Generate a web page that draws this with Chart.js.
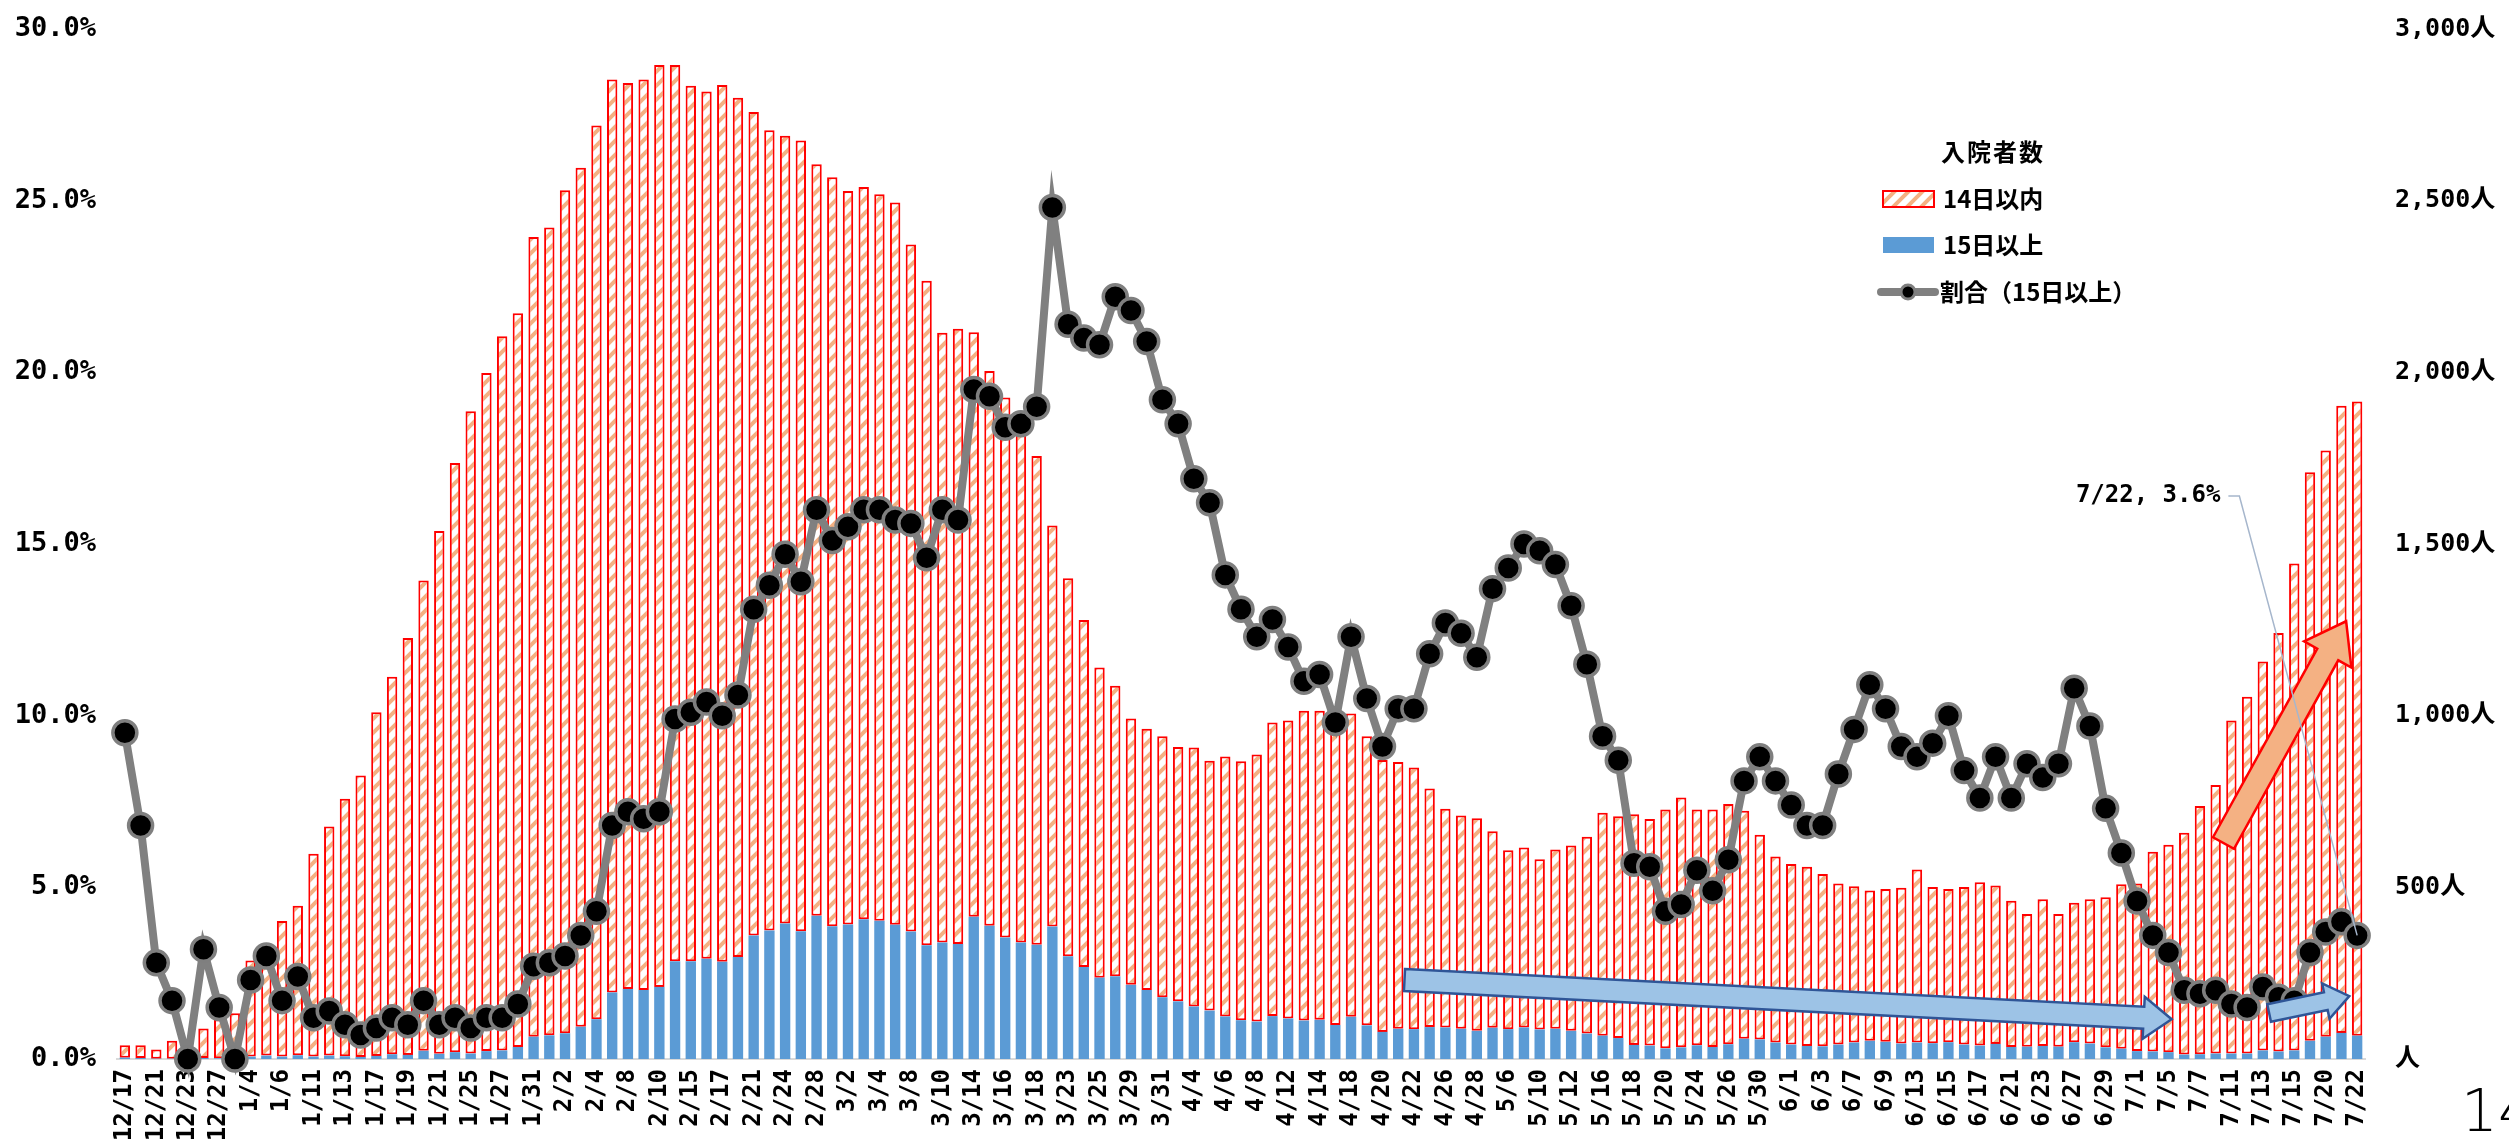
<!DOCTYPE html>
<html>
<head>
<meta charset="utf-8">
<script src="https://cdn.jsdelivr.net/npm/chart.js@4"></script>
<style>
html, body { margin: 0; padding: 0; background: #fff; overflow: hidden; }
</style>
</head>
<body>
<canvas id="myChart" width="2509" height="1141"></canvas>
<script>
// business days, 2021/12/17 - 2022/7/22
var labels = ['12/17','12/20','12/21','12/22','12/23','12/24','12/27','12/28',
  '1/4','1/5','1/6','1/7','1/11','1/12','1/13','1/14','1/17','1/18','1/19','1/20','1/21','1/24','1/25','1/26','1/27','1/28','1/31',
  '2/1','2/2','2/3','2/4','2/7','2/8','2/9','2/10','2/14','2/15','2/16','2/17','2/18','2/21','2/22','2/24','2/25','2/28',
  '3/1','3/2','3/3','3/4','3/7','3/8','3/9','3/10','3/11','3/14','3/15','3/16','3/17','3/18','3/22','3/23','3/24','3/25','3/28','3/29','3/30','3/31',
  '4/1','4/4','4/5','4/6','4/7','4/8','4/11','4/12','4/13','4/14','4/15','4/18','4/19','4/20','4/21','4/22','4/25','4/26','4/27','4/28',
  '5/2','5/6','5/9','5/10','5/11','5/12','5/13','5/16','5/17','5/18','5/19','5/20','5/23','5/24','5/25','5/26','5/27','5/30','5/31',
  '6/1','6/2','6/3','6/6','6/7','6/8','6/9','6/10','6/13','6/14','6/15','6/16','6/17','6/20','6/21','6/22','6/23','6/24','6/27','6/28','6/29','6/30',
  '7/1','7/4','7/5','7/6','7/7','7/8','7/11','7/12','7/13','7/14','7/15','7/19','7/20','7/21','7/22'];

// 入院者数 15日以上
var over15 = [4,3,1,1,0,3,2,0,
  7,10,7,11,7,10,8,6,
  9,14,12,24,15,20,16,23,
  25,35,65,69,75,94,116,194,
  204,201,210,285,285,292,283,297,
  360,374,395,372,417,387,392,407,
  403,391,371,331,339,335,414,388,
  354,339,333,386,299,268,237,241,
  216,201,180,168,153,141,124,113,
  109,125,118,112,114,99,123,98,
  79,88,87,93,92,88,82,91,
  87,92,86,88,82,74,68,61,
  41,39,31,34,40,35,43,59,
  57,48,42,38,37,42,48,53,
  50,45,48,46,49,42,39,44,
  35,36,38,36,49,45,34,30,
  23,22,20,13,14,16,16,16,
  25,22,25,53,65,76,68];

// 入院者数 14日以内
var within14 = [36,37,27,52,25,86,113,133,
  280,320,395,435,591,667,750,820,
  1001,1099,1214,1370,1523,1716,1871,1975,
  2080,2137,2329,2353,2455,2502,2603,2659,
  2639,2652,2685,2610,2550,2526,2554,2503,
  2398,2331,2294,2303,2189,2181,2136,2133,
  2116,2104,2001,1936,1776,1792,1703,1616,
  1573,1491,1423,1168,1101,1011,903,846,
  776,761,760,741,754,728,757,754,
  778,855,868,902,900,911,883,842,
  792,777,762,695,637,621,619,572,
  521,524,496,522,540,573,649,646,
  672,660,696,728,687,692,700,664,
  596,542,526,522,502,469,455,438,
  445,454,504,455,446,459,476,461,
  426,386,427,386,406,420,437,479,
  488,582,604,646,723,782,970,1039,
  1133,1219,1418,1656,1707,1827,1847];

// 割合（15日以上） %
var ratio = [9.5,6.8,2.8,1.7,0,3.2,1.5,0,
  2.3,3.0,1.7,2.4,1.2,1.4,1.0,0.7,
  0.9,1.2,1.0,1.7,1.0,1.2,0.9,1.2,
  1.2,1.6,2.7,2.8,3.0,3.6,4.3,6.8,
  7.2,7.0,7.2,9.9,10.1,10.4,10.0,10.6,
  13.1,13.8,14.7,13.9,16.0,15.1,15.5,16.0,
  16.0,15.7,15.6,14.6,16.0,15.7,19.5,19.3,
  18.4,18.5,19.0,24.8,21.4,21.0,20.8,22.2,
  21.8,20.9,19.2,18.5,16.9,16.2,14.1,13.1,
  12.3,12.8,12.0,11.0,11.2,9.8,12.3,10.5,
  9.1,10.2,10.2,11.8,12.7,12.4,11.7,13.7,
  14.3,15.0,14.8,14.4,13.2,11.5,9.4,8.7,
  5.7,5.6,4.3,4.5,5.5,4.9,5.8,8.1,
  8.8,8.1,7.4,6.8,6.8,8.3,9.6,10.9,
  10.2,9.1,8.8,9.2,10.0,8.4,7.6,8.8,
  7.6,8.6,8.2,8.6,10.8,9.7,7.3,6.0,
  4.6,3.6,3.1,2.0,1.9,2.0,1.6,1.5,
  2.1,1.8,1.7,3.1,3.7,4.0,3.6];

var mono = "'DejaVu Sans Mono', 'Noto Sans CJK JP', monospace";
var jp = "'Noto Sans CJK JP', sans-serif";

var canvas = document.getElementById('myChart');
var ctx = canvas.getContext('2d');

// striped fill like the excel pattern
function makeHatch() {
  var c = document.createElement('canvas');
  c.width = 14; c.height = 14;
  var g = c.getContext('2d');
  g.fillStyle = '#ffffff';
  g.fillRect(0, 0, 14, 14);
  g.strokeStyle = '#F4B183';
  g.lineWidth = 4;
  g.beginPath();
  g.moveTo(-2, 16); g.lineTo(16, -2);
  g.moveTo(-2, 2); g.lineTo(2, -2);
  g.moveTo(12, 16); g.lineTo(16, 12);
  g.stroke();
  return ctx.createPattern(c, 'repeat');
}
var hatch = makeHatch();

function drawArrow(c, x0, y0, x1, y1, w, hw, hl, fill, stroke) {
  var ang = Math.atan2(y1 - y0, x1 - x0);
  var len = Math.hypot(x1 - x0, y1 - y0);
  c.save();
  c.translate(x0, y0);
  c.rotate(ang);
  c.beginPath();
  c.moveTo(0, -w / 2);
  c.lineTo(len - hl, -w / 2);
  c.lineTo(len - hl, -hw / 2);
  c.lineTo(len, 0);
  c.lineTo(len - hl, hw / 2);
  c.lineTo(len - hl, w / 2);
  c.lineTo(0, w / 2);
  c.closePath();
  c.fillStyle = fill;
  c.fill();
  c.lineWidth = 2.5;
  c.strokeStyle = stroke;
  c.stroke();
  c.restore();
}

// arrows: [category index, people]
var arrows = [
  {from: [81.4, 230], to: [130.2, 116], w: 22, hw: 42, hl: 28, fill: '#9DC3E6', stroke: '#2F5597'},
  {from: [133.5, 629], to: [141.3, 1275], w: 24, hw: 54, hl: 38, fill: '#F4B183', stroke: '#FF0000'},
  {from: [136.4, 134], to: [141.5, 183], w: 18, hw: 36, hl: 24, fill: '#9DC3E6', stroke: '#2F5597'}
];

var overlay = {
  id: 'overlay',
  afterDatasetsDraw: function(chart) {
    var c = chart.ctx, x = chart.scales.x, y = chart.scales.y, y1 = chart.scales.y1;
    arrows.forEach(function(a) {
      drawArrow(c, x.getPixelForValue(a.from[0]), y1.getPixelForValue(a.from[1]),
        x.getPixelForValue(a.to[0]), y1.getPixelForValue(a.to[1]), a.w, a.hw, a.hl, a.fill, a.stroke);
    });

    // callout for the last point
    var last = labels.length - 1;
    var px = x.getPixelForValue(last), py = y.getPixelForValue(ratio[last]);
    var tx = x.getPixelForValue(133.3), ty = y.getPixelForValue(16.4);
    c.save();
    c.strokeStyle = '#A6B6CC';
    c.lineWidth = 1.5;
    c.beginPath();
    c.moveTo(tx + 8, ty);
    c.lineTo(tx + 19, ty);
    c.lineTo(px, py);
    c.stroke();
    c.fillStyle = '#000';
    c.font = 'bold 24px ' + mono;
    c.textAlign = 'right';
    c.textBaseline = 'middle';
    c.fillText(labels[last] + ', ' + ratio[last].toFixed(1) + '%', tx, ty);
    c.restore();
  },
  afterDraw: function(chart) {
    var c = chart.ctx;
    c.save();
    c.fillStyle = '#000';
    c.textBaseline = 'middle';
    c.font = 'bold 24px ' + jp;
    c.letterSpacing = '2px';
    c.fillText('入院者数', 1941, 152);
    c.letterSpacing = '0px';

    c.fillStyle = hatch;
    c.fillRect(1883, 191, 51, 16);
    c.strokeStyle = '#FF0000';
    c.lineWidth = 2;
    c.strokeRect(1883, 191, 51, 16);
    c.fillStyle = '#5B9BD5';
    c.fillRect(1883, 237, 51, 16);

    c.strokeStyle = '#808080';
    c.lineWidth = 8;
    c.lineCap = 'round';
    c.beginPath();
    c.moveTo(1881, 292);
    c.lineTo(1935, 292);
    c.stroke();
    c.beginPath();
    c.arc(1908, 292, 7, 0, Math.PI * 2);
    c.fillStyle = '#000';
    c.fill();
    c.lineWidth = 3;
    c.strokeStyle = '#7F7F7F';
    c.stroke();

    c.fillStyle = '#000';
    c.fillText('14日以内', 1943, 199);
    c.fillText('15日以上', 1943, 245);
    c.fillText('割合（15日以上）', 1940, 292);

    // page number
    c.font = "200 58px 'DejaVu Sans', sans-serif";
    c.textBaseline = 'alphabetic';
    c.fillText('14', 2461, 1131);
    c.restore();
  }
};

// the tick padding would otherwise be added above and below the plot too
function trimPadding(s) {
  s.paddingTop = 16;
  s.paddingBottom = 16;
}

var chart = new Chart(ctx, {
  type: 'bar',
  data: {
    labels: labels,
    datasets: [
      {
        type: 'line',
        label: '割合（15日以上）',
        data: ratio,
        yAxisID: 'y',
        borderColor: '#808080',
        borderWidth: 8,
        pointRadius: 12,
        pointBackgroundColor: '#000000',
        pointBorderColor: '#7F7F7F',
        pointBorderWidth: 3.5,
        tension: 0,
        clip: false,
        order: 0
      },
      {
        label: '15日以上',
        data: over15,
        yAxisID: 'y1',
        stack: 's',
        backgroundColor: '#5B9BD5',
        borderWidth: 0,
        barPercentage: 0.66,
        categoryPercentage: 1,
        order: 1
      },
      {
        label: '14日以内',
        data: within14,
        yAxisID: 'y1',
        stack: 's',
        backgroundColor: hatch,
        borderColor: '#FF0000',
        borderWidth: 2,
        borderSkipped: false,
        barPercentage: 0.66,
        categoryPercentage: 1,
        order: 1
      }
    ]
  },
  options: {
    responsive: false,
    animation: false,
    devicePixelRatio: 1,
    layout: {padding: {left: 15, right: 6, top: 14, bottom: 0}},
    plugins: {legend: {display: false}, tooltip: {enabled: false}},
    scales: {
      x: {
        stacked: true,
        grid: {display: false, drawTicks: false},
        border: {display: true, color: '#D9D9D9', width: 2},
        ticks: {
          autoSkip: false, maxRotation: 90, minRotation: 90, padding: 10,
          color: '#000', font: {family: mono, size: 24, weight: 'bold'},
          callback: function(v, i) { return i % 2 === 0 ? labels[i] : ''; }
        }
      },
      y: {
        position: 'left', min: 0, max: 30,
        grid: {display: false, drawTicks: false},
        border: {display: false},
        afterFit: trimPadding,
        ticks: {
          stepSize: 5, padding: 21, color: '#000',
          font: {family: mono, size: 27, weight: 'bold'},
          callback: function(v) { return v.toFixed(1) + '%'; }
        }
      },
      y1: {
        position: 'right', stacked: true, min: 0, max: 3000,
        grid: {display: false, drawTicks: false},
        border: {display: false},
        afterFit: trimPadding,
        ticks: {
          stepSize: 500, padding: 30, color: '#000',
          font: {family: mono, size: 25, weight: 'bold'},
          callback: function(v) { return v === 0 ? '人' : v.toLocaleString('en-US') + '人'; }
        }
      }
    }
  },
  plugins: [overlay]
});

// nudge the layout padding until the plot area sits where the original one does
var target = {left: 117, right: 2365, top: 29, bottom: 1059};
for (var k = 0; k < 3; k++) {
  var a = chart.chartArea, p = chart.options.layout.padding;
  p.left += target.left - a.left;
  p.right += a.right - target.right;
  p.top += target.top - a.top;
  p.bottom += a.bottom - target.bottom;
  chart.update();
}
</script>
</body>
</html>
